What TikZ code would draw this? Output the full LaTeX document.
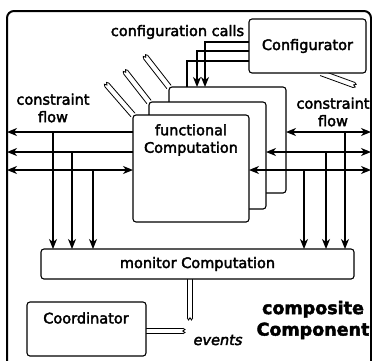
\documentclass[tikz,border=0pt]{standalone}
\usepackage{fontspec}
\setmainfont{DejaVu Sans}
\newfontfamily\labelfont{DejaVu Sans}[FakeBold=2.6]
\newfontfamily\titlefont{DejaVu Sans Bold}[FakeBold=2.4]
\usetikzlibrary{arrows.meta}

% a double line leaving a box, ending in a torn edge
% #1 start point, #2 direction (degrees), #3 length
\newcommand\tornport[3]{%
  \begin{scope}[shift={#1}, rotate=#2, port]
    \draw (0,-2.7) -- (#3,-2.7);
    \draw (0,2.7) -- (#3,2.7);
    \draw (#3,-2.7) -- (#3+2,-1.4) -- (#3-0.3,0) -- (#3+2,1.4) -- (#3,2.7);
  \end{scope}}

\begin{document}
\begin{tikzpicture}[x=1pt,y=-1pt,
  box/.style={draw, line width=1.1pt, rounded corners=3pt, fill=white,
    inner sep=0pt, outer sep=0pt, anchor=north west},
  lbl/.style={font=\fontsize{14.5}{17.5}\selectfont\labelfont, align=center, inner sep=0pt},
  >={Stealth[length=10pt,width=8pt,inset=3pt]},
  flow/.style={line width=1.4pt},
  port/.style={line width=0.8pt}]

\useasboundingbox (0,0) rectangle (372,360);

% the enclosing composite component
\node[draw, line width=2pt, rounded corners=7pt, inner sep=0pt, outer sep=0pt,
  minimum width=364pt, minimum height=380pt, anchor=north west] (frame) at (7,11) {};

% helper positions
\coordinate (yA) at (0,132);
\coordinate (yB) at (0,152);
\coordinate (yC) at (0,170);
\coordinate (xL1) at (53,0);
\coordinate (xL2) at (72,0);
\coordinate (xL3) at (93,0);
\coordinate (xR1) at (345,0);
\coordinate (xR2) at (326,0);
\coordinate (xR3) at (304,0);
\coordinate (c1) at (0,42);
\coordinate (c2) at (0,51);
\coordinate (c3) at (0,61);
\coordinate (k1) at (205,0);
\coordinate (k2) at (197,0);
\coordinate (k3) at (187,0);
\coordinate (q1) at (321,73);
\coordinate (q2) at (190,279);
\coordinate (q3) at (146,331);

% ports (drawn first so the boxes sit on top of them)
\tornport{(169,87)}{128}{38}
\tornport{(149,102)}{128}{38}
\tornport{(133,115)}{131}{40}
\tornport{(q1)}{-20}{35}
\tornport{(q2)}{-90}{39}
\tornport{(q3)}{0}{37}

% stacked functional computations
\node[box, minimum width=117pt, minimum height=106pt] (f3) at (169,87) {};
\node[box, minimum width=117pt, minimum height=107pt] (f2) at (149,102) {};
\node[box, minimum width=116pt, minimum height=107pt] (f1) at (133,115) {};

\node[box, minimum width=117pt, minimum height=54pt, lbl] (cfg) at (249,19) {Configurator};
\node[box, minimum width=313pt, minimum height=30pt, lbl] (mon) at (41,249) {monitor Computation};
\node[box, minimum width=119pt, minimum height=54pt] (coord) at (27,302) {};

% constraint flow, left side
\draw[flow,->] (f1.west |- yA) -- (frame.west |- yA);
\draw[flow,->] (f1.west |- yB) -- (frame.west |- yB);
\draw[flow,<->] (frame.west |- yC) -- (f1.west |- yC);
\draw[flow,->] (xL1 |- yA) -- (xL1 |- mon.north);
\draw[flow,->] (xL2 |- yB) -- (xL2 |- mon.north);
\draw[flow,->] (xL3 |- yC) -- (xL3 |- mon.north);

% constraint flow, right side
\draw[flow,<->] (f3.east |- yA) -- (frame.east |- yA);
\draw[flow,<->] (f2.east |- yB) -- (frame.east |- yB);
\draw[flow,<->] (f1.east |- yC) -- (frame.east |- yC);
\draw[flow,->] (xR1 |- yA) -- (xR1 |- mon.north);
\draw[flow,->] (xR2 |- yB) -- (xR2 |- mon.north);
\draw[flow,->] (xR3 |- yC) -- (xR3 |- mon.north);

% configuration calls
\draw[flow,->] (cfg.west |- c1) -| (k1 |- f3.north);
\draw[flow,->] (cfg.west |- c2) -| (k2 |- f3.north);
\draw[flow] (cfg.west |- c3) -| (k3 |- f3.north);

% labels
\node[lbl] (callslbl) at (177.5,32) {configuration calls};
\node[lbl] (lflow) at (53,108) {constraint\\flow};
\node[lbl] (rflow) at (333,112) {constraint\\flow};
\node[lbl] (funlbl) at (191,140) {functional\\Computation};
\node[lbl] (coordlbl) at (86,318) {Coordinator};
\node[lbl, font=\fontsize{14.5}{17.5}\selectfont\labelfont\itshape] (events) at (218,340) {events};
\node[lbl, font=\fontsize{17.5}{21.5}\selectfont\titlefont] (complbl) at (313,320) {composite\\Component};
\end{tikzpicture}
\end{document}
